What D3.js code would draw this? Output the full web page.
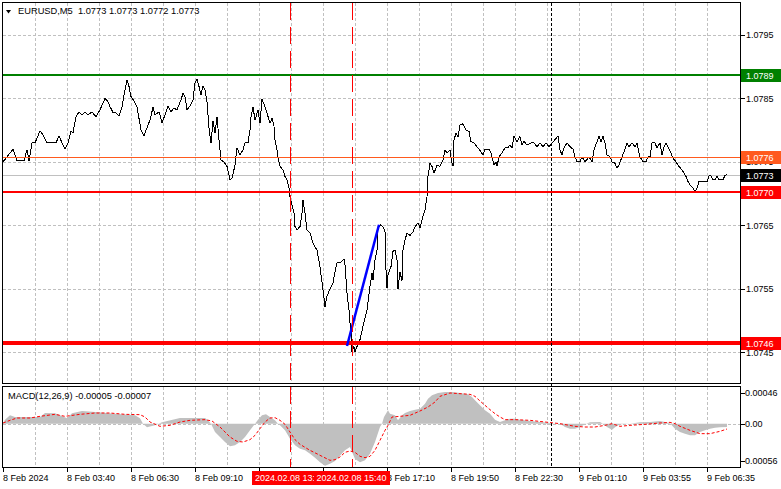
<!DOCTYPE html>
<html><head><meta charset="utf-8">
<script src="https://cdn.jsdelivr.net/npm/d3@7"></script>
<style>
html,body{margin:0;padding:0;background:#fff;}
svg{display:block;}
text{font-family:"Liberation Sans",Arial,sans-serif;}
</style></head><body>
<svg id="chart" width="781" height="489"></svg>
<script>
// ---------------- DATA ----------------
const symbolTitle = "EURUSD,M5  1.0773 1.0773 1.0772 1.0773";
const macdTitle = "MACD(12,26,9) -0.00005 -0.00007";
const priceTicks = [1.0745, 1.0755, 1.0765, 1.0775, 1.0785, 1.0795];
const priceTickLabels = ["1.0745", "1.0755", "1.0765", "1.0775", "1.0785", "1.0795"];
const macdTicks = [-0.00056, 0, 0.00046];
const macdTickLabels = ["-0.00056", "0.00", "0.00046"];
const timeLabels = ["8 Feb 2024", "8 Feb 03:40", "8 Feb 06:30", "8 Feb 09:10", "8 Feb 11:50", "8 Feb 14:30",
  "8 Feb 17:10", "8 Feb 19:50", "8 Feb 22:30", "9 Feb 01:10", "9 Feb 03:55", "9 Feb 06:35"];
const timeLabelBars = [0, 32, 64, 96, 128, 160, 192, 224, 256, 288, 320, 352];
const gridBars = [16, 32, 48, 64, 80, 96, 112, 128, 144, 160, 176, 192, 208, 224, 240, 256, 272, 288, 304, 320, 336, 352];
const daySeparatorBar = 274;
const markerBars = [143.5, 174.3];
const markerLabels = ["2024.02.08 13:05", "2024.02.08 15:40"];
const levelPrices = [1.07887, 1.07758, 1.07702, 1.07465];
const levelLabels = ["1.0789", "1.0776", "1.0770", "1.0746"];
const lastPrice = 1.07729;
const lastPriceLabel = "1.0773";
const trendBars = [172, 188];
const trendPrices = [1.07460, 1.07651];

const closeBars = [0,2,5,7,10.5,12,13,14.5,16,18.5,20,22,26.5,28,29.5,31,32.5,34,35,36.5,38,39.5,41,42.5,44.5,46.5,48.5,50,51,52.5,53.5,55,56.5,58,59.5,60.5,62,63,64,65.5,67,69,70.5,71.5,73.5,75,76,78,79.5,81,82.5,84,85.5,87,89,90,91,92,93.5,95,96,97,98,99,100,101,102,103,104,105,106,107,108,109,110.5,112,113.5,114.5,116,117,118.5,120,121,122.5,123.5,124,125,126,127.5,128.5,129.5,130.5,132,133.5,134.5,135.5,136,137,137.5,138.5,140,141,142,143,143.5,144.5,145.5,146,147,148.5,149.5,150,151,152,153.5,155,157,158.5,160,161,162,163.5,165,166,167,169,170.5,171,172,173,173.5,174,174.5,175.5,176,177,178.5,180,182,183.5,184.5,185,186,187,187.5,188.5,190,191,191.5,192,192.5,194,195,196,197,197.5,198.5,199.5,200,201,202,203.5,205,206,207.5,208.5,209.5,211,212,212.5,213.5,214.5,215.5,217,218.5,220,221,222,223.5,224.5,225,225.5,226.5,227.5,228.5,230,231.5,233,234,235.5,237,239,240,241,243,244,245.5,246.5,247,248,249.5,251,252.5,253.5,254.5,255.5,257,258.5,259.5,260.5,262,264,265.5,267,268.5,270,271.5,273,274.5,276,277.5,278.5,279.5,280.5,282,283.5,285,286,287,288.5,289.5,291,293,294.5,295.5,297,298,299,300,301,302,303.5,304.5,306,307,308,309.5,310.5,312,313,314.5,316,317,318,318.5,320,321.5,322.5,323.5,324.5,326,327,328.5,329.5,330.5,331.5,332.5,334,335,336.5,337.5,339,340,341.5,342.5,343.5,345,346,347,348,350.5,352,353,354,355,356,357,358,360,361,362];
const closes = [1.07750,1.07758,1.07770,1.07752,1.07752,1.07769,1.07752,1.07780,1.07780,1.07799,1.07793,1.07780,1.07780,1.07791,1.07780,1.07770,1.07780,1.07798,1.07796,1.07821,1.07829,1.07824,1.07828,1.07824,1.07829,1.07821,1.07832,1.07843,1.07850,1.07845,1.07837,1.07828,1.07827,1.07822,1.07837,1.07856,1.07879,1.07869,1.07853,1.07846,1.07837,1.07800,1.07791,1.07800,1.07816,1.07836,1.07824,1.07829,1.07812,1.07824,1.07838,1.07829,1.07835,1.07832,1.07848,1.07858,1.07853,1.07832,1.07838,1.07848,1.07874,1.07880,1.07869,1.07856,1.07870,1.07863,1.07845,1.07803,1.07780,1.07814,1.07796,1.07821,1.07785,1.07753,1.07750,1.07743,1.07722,1.07724,1.07745,1.07772,1.07761,1.07769,1.07780,1.07780,1.07800,1.07821,1.07837,1.07816,1.07832,1.07811,1.07849,1.07841,1.07827,1.07811,1.07819,1.07806,1.07785,1.07769,1.07758,1.07743,1.07737,1.07727,1.07722,1.07709,1.07695,1.07682,1.07670,1.07648,1.07643,1.07648,1.07669,1.07690,1.07669,1.07643,1.07638,1.07622,1.07611,1.07585,1.07548,1.07522,1.07538,1.07550,1.07559,1.07577,1.07591,1.07592,1.07597,1.07588,1.07543,1.07517,1.07496,1.07485,1.07451,1.07459,1.07451,1.07459,1.07470,1.07491,1.07517,1.07554,1.07575,1.07564,1.07596,1.07611,1.07643,1.07651,1.07648,1.07640,1.07580,1.07551,1.07572,1.07585,1.07609,1.07611,1.07596,1.07550,1.07577,1.07562,1.07611,1.07627,1.07638,1.07634,1.07640,1.07648,1.07654,1.07646,1.07659,1.07674,1.07695,1.07727,1.07748,1.07743,1.07732,1.07745,1.07743,1.07753,1.07769,1.07764,1.07769,1.07748,1.07743,1.07785,1.07795,1.07790,1.07808,1.07810,1.07800,1.07798,1.07782,1.07780,1.07774,1.07766,1.07761,1.07770,1.07770,1.07764,1.07745,1.07750,1.07743,1.07758,1.07764,1.07772,1.07772,1.07777,1.07772,1.07790,1.07782,1.07790,1.07777,1.07782,1.07777,1.07780,1.07780,1.07774,1.07780,1.07774,1.07780,1.07774,1.07780,1.07785,1.07791,1.07769,1.07761,1.07772,1.07780,1.07774,1.07770,1.07758,1.07750,1.07750,1.07758,1.07750,1.07758,1.07750,1.07769,1.07782,1.07790,1.07782,1.07790,1.07780,1.07761,1.07758,1.07750,1.07748,1.07740,1.07745,1.07758,1.07766,1.07780,1.07774,1.07780,1.07774,1.07780,1.07764,1.07758,1.07750,1.07750,1.07758,1.07758,1.07780,1.07780,1.07772,1.07780,1.07761,1.07774,1.07780,1.07774,1.07764,1.07756,1.07750,1.07745,1.07739,1.07735,1.07727,1.07719,1.07714,1.07709,1.07703,1.07709,1.07719,1.07719,1.07719,1.07728,1.07728,1.07722,1.07722,1.07728,1.07722,1.07722,1.07729,1.07730];

const histBars = [0,1,3.5,6,18.5,21,26,28.5,32,34.5,39.5,46,56,66,68.5,70,72,76,79.5,88.5,101,102.5,104,106,108.5,111,113.5,116,118.5,121,123.5,126,127.5,129.5,131.5,133.5,136,137.5,138.5,141,143.5,146,148.5,151,153.5,156,158.5,161,163.5,166,168.5,171,173.5,176,178.5,181,183.5,186,188.5,189.5,190.5,192.5,193.5,196,197.5,199.5,201,203.5,206,208.5,211,212.5,214.5,217.5,221,224.5,228.5,232.5,234.5,236,238.5,241,243.5,246,248.5,251,253.5,256,258.5,263.5,268.5,273.5,276,278.5,281,283.5,286,288.5,291,293.5,298.5,300,302,304.5,306,308.5,313.5,318.5,323.5,328.5,331,333.5,336,338.5,341,343.5,346,348.5,351,353.5,356,358.5,362];
const histValues = [0,0.00006,0.000125,0.0001,0.0001,0.00016,0.000155,0.000125,0.00008,0.000155,0.00019,0.000175,0.00015,0.000125,0.00008,0,-0.000055,-0.000025,0.00002,0.000085,0.000085,0.00005,0,-0.000125,-0.0002,-0.000275,-0.00034,-0.000325,-0.000275,-0.0002,-0.0001,0,0.00006,0.000125,0.00014,0.0001,0.00005,0,-0.000025,-0.0001,-0.000225,-0.000325,-0.000375,-0.0004,-0.00045,-0.00051,-0.00058,-0.00063,-0.0006,-0.00056,-0.00048,-0.0004,-0.00035,-0.00053,-0.00058,-0.00055,-0.00045,-0.000275,-0.00005,0,0.0001,0.0002,0.00015,0.000125,0.00005,0.000125,0.00016,0.00019,0.00021,0.000225,0.0003,0.000375,0.000425,0.00046,0.000475,0.000475,0.00046,0.00044,0.0004,0.00035,0.000275,0.0002,0.00015,0.00006,0.000025,0.00005,0.000075,0.000075,0.00006,0.00004,0.000025,0.00001,-0.00001,0,-0.00005,-0.000075,-0.000075,-0.00005,-0.00001,0.00002,0.000025,0,-0.00005,-0.00009,-0.000055,-0.00001,0,0.00002,0.000025,0.00004,0.000025,0.000005,-0.000075,-0.000125,-0.00015,-0.000175,-0.000175,-0.000125,-0.0001,-0.000075,-0.00006,-0.000055,-0.00005];

const signalBars = [0,3.5,7,13.5,18.5,26,31,38.5,46,53.5,61,68.5,71,73.5,78.5,83.5,88.5,93.5,101,104.5,108.5,111,113.5,117,120,123.5,126,128.5,131,133.5,136,138.5,141,143.5,146,148.5,153.5,158.5,163.5,166,168.5,171,173.5,176,178.5,181,183.5,186,188.5,191,192.5,194.5,198.5,203.5,208.5,212.5,216,218.5,223.5,228.5,233.5,236,238.5,241,243.5,246,248.5,251,256,263.5,271,278.5,286,291,296,301,304.5,308.5,313.5,321,328.5,333.5,336,338.5,343.5,348.5,353.5,358.5,362];
const signalValues = [0.00001,0.00005,0.000085,0.000085,0.00011,0.00014,0.00011,0.00014,0.00016,0.00016,0.00014,0.000135,0.0001,0.000025,-0.00004,-0.000025,0.000025,0.00005,0.00006,0.00004,-0.00005,-0.000125,-0.0002,-0.000265,-0.000275,-0.00024,-0.000175,-0.000075,0.000025,0.000085,0.00009,0.00005,-0.00001,-0.000125,-0.00024,-0.00031,-0.0004,-0.000475,-0.00055,-0.00054,-0.0005,-0.00043,-0.00041,-0.00043,-0.00049,-0.00051,-0.00049,-0.0004,-0.00025,-0.0001,-0.000025,0.0001,0.00011,0.000125,0.00019,0.00025,0.000325,0.00041,0.00046,0.00045,0.00044,0.00041,0.00034,0.000275,0.00021,0.00015,0.0001,0.00006,0.00006,0.00005,0.000025,0,-0.00004,-0.00005,-0.00005,-0.000025,0,-0.00004,-0.000025,-0.00001,0.00001,0.00002,0,-0.00004,-0.0001,-0.00015,-0.00015,-0.000115,-0.00008];

// ---------------- LAYOUT ----------------
const svg = d3.select("#chart");
const L = 2.5, R = 740.5;
const mainTop = 2.5, mainBot = 383.5;
const macdTop = 386.5, macdBot = 467.5;

const x = d3.scaleLinear().domain([0, 369]).range([3, 741]);
const y = d3.scaleLinear().domain([1.0745, 1.0795]).range([352.3, 35]);
const ym = d3.scaleLinear().domain([-0.00056, 0.00046]).range([461, 393]);
const crisp = v => Math.round(v) + 0.5;

const defs = svg.append("defs");
defs.append("clipPath").attr("id", "clipMain").append("rect")
  .attr("x", L).attr("y", mainTop).attr("width", R - L).attr("height", mainBot - mainTop);
defs.append("clipPath").attr("id", "clipMacd").append("rect")
  .attr("x", L).attr("y", macdTop).attr("width", R - L).attr("height", macdBot - macdTop);

const gridColor = "#c0c0c0";
const gridDash = "3,2";

// ---------- main panel ----------
const gMain = svg.append("g").attr("clip-path", "url(#clipMain)");
gMain.selectAll("line.hg").data(priceTicks).join("line")
  .attr("x1", L).attr("x2", R).attr("y1", d => crisp(y(d))).attr("y2", d => crisp(y(d)))
  .attr("stroke", gridColor).attr("stroke-dasharray", gridDash).attr("shape-rendering", "crispEdges");
gMain.selectAll("line.vg").data(gridBars).join("line")
  .attr("x1", d => crisp(x(d))).attr("x2", d => crisp(x(d))).attr("y1", mainTop).attr("y2", mainBot)
  .attr("stroke", gridColor).attr("stroke-dasharray", gridDash).attr("shape-rendering", "crispEdges");

// current price line
gMain.append("line").attr("x1", L).attr("x2", R)
  .attr("y1", crisp(y(lastPrice))).attr("y2", crisp(y(lastPrice)))
  .attr("stroke", "#c0c0c0").attr("shape-rendering", "crispEdges");

// price line
const priceData = closeBars.map((b, i) => [b, closes[i]]);
gMain.append("path").datum(priceData)
  .attr("d", d3.line().x(d => x(d[0])).y(d => y(d[1])))
  .attr("fill", "none").attr("stroke", "#000").attr("stroke-width", 1)
  .attr("shape-rendering", "crispEdges");

// level lines
const levelStyle = [
  {color: "#008000", width: 2},
  {color: "#ff5a1e", width: 1},
  {color: "#ff0000", width: 2},
  {color: "#ff0000", width: 4}
];
gMain.selectAll("line.lvl").data(levelPrices).join("line")
  .attr("x1", L).attr("x2", R)
  .attr("y1", (d, i) => levelStyle[i].width % 2 ? crisp(y(d)) : Math.round(y(d)))
  .attr("y2", (d, i) => levelStyle[i].width % 2 ? crisp(y(d)) : Math.round(y(d)))
  .attr("stroke", (d, i) => levelStyle[i].color)
  .attr("stroke-width", (d, i) => levelStyle[i].width)
  .attr("shape-rendering", "crispEdges");

// trend line (blue)
gMain.append("line")
  .attr("x1", x(trendBars[0])).attr("y1", y(trendPrices[0]))
  .attr("x2", x(trendBars[1])).attr("y2", y(trendPrices[1]))
  .attr("stroke", "#0000ff").attr("stroke-width", 2.5);

// ---------- MACD panel ----------
const gMacd = svg.append("g").attr("clip-path", "url(#clipMacd)");
gMacd.append("line").attr("x1", L).attr("x2", R).attr("y1", crisp(ym(0))).attr("y2", crisp(ym(0)))
  .attr("stroke", gridColor).attr("stroke-dasharray", gridDash).attr("shape-rendering", "crispEdges");
gMacd.selectAll("line.vg").data(gridBars).join("line")
  .attr("x1", d => crisp(x(d))).attr("x2", d => crisp(x(d))).attr("y1", macdTop).attr("y2", macdBot)
  .attr("stroke", gridColor).attr("stroke-dasharray", gridDash).attr("shape-rendering", "crispEdges");

const histData = histBars.map((b, i) => [b, histValues[i]]);
gMacd.append("path").datum(histData)
  .attr("d", d3.area().x(d => x(d[0])).y0(ym(0)).y1(d => ym(d[1])))
  .attr("fill", "#c0c0c0").attr("stroke", "none");

const sigData = signalBars.map((b, i) => [b, signalValues[i]]);
gMacd.append("path").datum(sigData)
  .attr("d", d3.line().x(d => x(d[0])).y(d => ym(d[1])))
  .attr("fill", "none").attr("stroke", "#ff0000").attr("stroke-width", 1)
  .attr("stroke-dasharray", "3,2");

// ---------- vertical separators ----------
svg.append("line")
  .attr("x1", crisp(x(daySeparatorBar))).attr("x2", crisp(x(daySeparatorBar)))
  .attr("y1", mainTop).attr("y2", macdBot)
  .attr("stroke", "#000").attr("stroke-dasharray", "3,2").attr("shape-rendering", "crispEdges");
svg.selectAll("line.mk").data(markerBars).join("line")
  .attr("x1", d => crisp(x(d))).attr("x2", d => crisp(x(d)))
  .attr("y1", mainTop).attr("y2", macdBot)
  .attr("stroke", "#ff0000").attr("stroke-dasharray", "17,7").attr("shape-rendering", "crispEdges");

// ---------- frames ----------
[[mainTop, mainBot], [macdTop, macdBot]].forEach(([t, b]) => {
  svg.append("rect").attr("x", L).attr("y", t).attr("width", R - L).attr("height", b - t)
    .attr("fill", "none").attr("stroke", "#000").attr("shape-rendering", "crispEdges");
});

// ---------- titles ----------
svg.append("path").attr("d", "M6,10 L11,10 L8.5,13.5 Z").attr("fill", "#000");
svg.append("text").attr("x", 18).attr("y", 14).attr("font-size", "9.3px").attr("fill", "#000")
  .attr("xml:space", "preserve").style("white-space", "pre").text(symbolTitle);
svg.append("text").attr("x", 8).attr("y", 398.5).attr("font-size", "9.3px").attr("fill", "#000")
  .text(macdTitle);

// ---------- right price axis ----------
const axFont = "9px";
svg.selectAll("line.pt").data(priceTicks).join("line")
  .attr("x1", R).attr("x2", R + 4).attr("y1", d => crisp(y(d))).attr("y2", d => crisp(y(d)))
  .attr("stroke", "#000").attr("shape-rendering", "crispEdges");
svg.selectAll("text.pt").data(priceTicks).join("text")
  .attr("x", 746).attr("y", d => y(d) + 3.3).attr("font-size", axFont).attr("fill", "#000")
  .text((d, i) => priceTickLabels[i]);

function priceBox(v, label, fill) {
  const yy = Math.round(y(v));
  svg.append("rect").attr("x", 741).attr("y", yy - 6.5).attr("width", 40).attr("height", 13)
    .attr("fill", fill).attr("shape-rendering", "crispEdges");
  svg.append("text").attr("x", 746).attr("y", yy + 3.5).attr("font-size", axFont).attr("fill", "#fff").text(label);
}
priceBox(lastPrice, lastPriceLabel, "#000");
levelPrices.forEach((v, i) => priceBox(v, levelLabels[i], levelStyle[i].color));

// ---------- right MACD axis ----------
svg.selectAll("line.mt").data(macdTicks).join("line")
  .attr("x1", R).attr("x2", R + 4).attr("y1", d => crisp(ym(d))).attr("y2", d => crisp(ym(d)))
  .attr("stroke", "#000").attr("shape-rendering", "crispEdges");
svg.selectAll("text.mt").data(macdTicks).join("text")
  .attr("x", d => d < 0 ? 742 : 745).attr("y", d => ym(d) + 3.3).attr("font-size", axFont).attr("fill", "#000")
  .text((d, i) => macdTickLabels[i]);

// ---------- time axis ----------
svg.selectAll("line.tt").data(timeLabelBars).join("line")
  .attr("x1", d => crisp(x(d))).attr("x2", d => crisp(x(d))).attr("y1", macdBot).attr("y2", macdBot + 4)
  .attr("stroke", "#000").attr("shape-rendering", "crispEdges");
svg.selectAll("text.tl").data(timeLabelBars).join("text")
  .attr("x", d => x(d)).attr("y", 481).attr("font-size", axFont).attr("fill", "#000")
  .text((d, i) => timeLabels[i]);

// marker labels on time axis
markerBars.forEach((b, i) => {
  const g = svg.append("g");
  const r = g.append("rect").attr("fill", "#ff0000").attr("shape-rendering", "crispEdges");
  const t = g.append("text").attr("y", 481).attr("font-size", axFont).attr("fill", "#fff").text(markerLabels[i]);
  const w = t.node().getComputedTextLength();
  const cx = x(b);
  t.attr("x", cx - w / 2);
  r.attr("x", Math.round(cx - w / 2 - 3)).attr("y", 471).attr("width", Math.round(w + 6)).attr("height", 14);
});
</script>
</body></html>
